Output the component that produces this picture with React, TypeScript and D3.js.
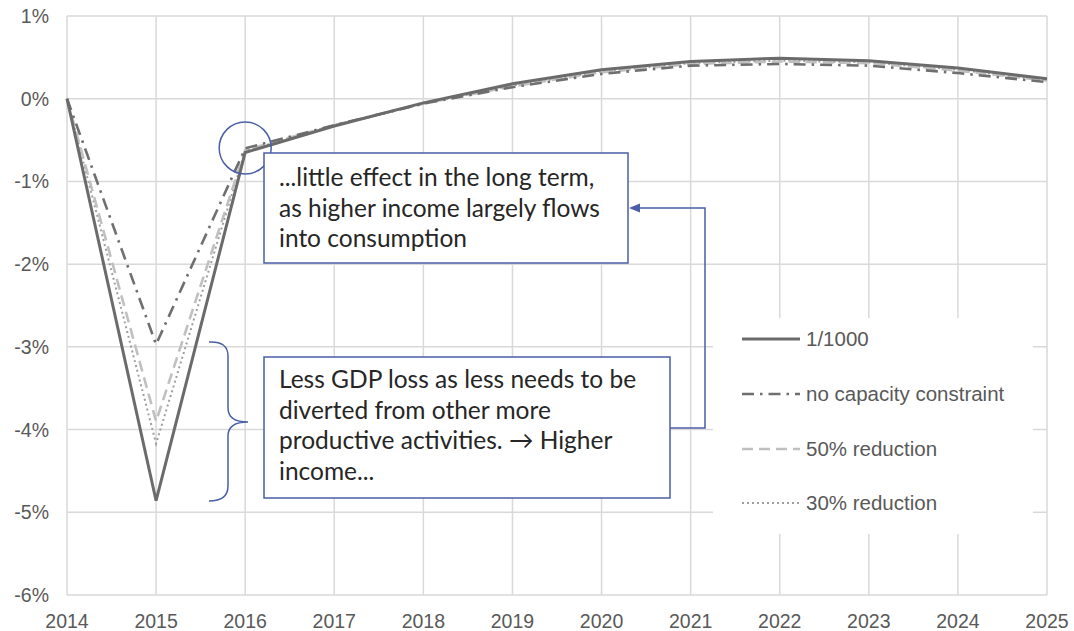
import React from "react";
import * as d3 from "d3";

const years = [2014, 2015, 2016, 2017, 2018, 2019, 2020, 2021, 2022, 2023, 2024, 2025];
const yTicks = [1, 0, -1, -2, -3, -4, -5, -6];

const s1000 = [0, -4.86, -0.65, -0.33, -0.05, 0.18, 0.35, 0.45, 0.49, 0.46, 0.37, 0.24];
const noCapacity = [0, -2.97, -0.6, -0.32, -0.06, 0.14, 0.3, 0.4, 0.42, 0.4, 0.31, 0.2];
const red50 = [0, -3.9, -0.62, -0.32, -0.06, 0.15, 0.32, 0.42, 0.45, 0.43, 0.34, 0.22];
const red30 = [0, -4.17, -0.63, -0.33, -0.06, 0.16, 0.33, 0.43, 0.46, 0.44, 0.35, 0.22];

const seriesNames = ["1/1000", "no capacity constraint", "50% reduction", "30% reduction"];

const W = 1074;
const H = 631;
const M = { left: 67, right: 1047, top: 16, bottom: 595 };

const styles = [
  { color: "#6b6b6b", width: 3, dash: "" },
  { color: "#6f6f6f", width: 2.6, dash: "12,6,2.5,6" },
  { color: "#c0c0c0", width: 2.6, dash: "11,6" },
  { color: "#9e9e9e", width: 2, dash: "2,3" },
];

const boxText1 = ["...little effect in the long term,", "as higher income largely flows", "into consumption"];
const boxText2 = ["Less GDP loss as less needs to be", "diverted from other more", "productive activities. \u2192 Higher", "income..."];

export default function App() {
  const x = d3.scaleLinear().domain([2014, 2025]).range([M.left, M.right]);
  const y = d3.scaleLinear().domain([-6, 1]).range([M.bottom, M.top]);
  const allSeries = [s1000, noCapacity, red50, red30];
  const line = d3
    .line<number>()
    .x((_, i) => x(years[i]))
    .y((d) => y(d));

  const blue = "#4a5fa6";
  const axisFont = "Liberation Sans, Arial, sans-serif";
  const noteFont = "Lato, 'Open Sans', sans-serif";

  // legend block geometry
  const legX = 742;
  const legRows = [339, 394, 449, 503];

  return (
    <svg width={W} height={H} style={{ position: "absolute", left: 0, top: 0, background: "#fff" }}>
      <rect x={0} y={0} width={W} height={H} fill="#fff" />
      {/* gridlines */}
      {yTicks.map((t) => (
        <line key={"h" + t} x1={M.left} x2={M.right} y1={y(t)} y2={y(t)} stroke="#d9d9d9" strokeWidth={1.5} />
      ))}
      {years.map((yr) => (
        <line key={"v" + yr} x1={x(yr)} x2={x(yr)} y1={M.top} y2={M.bottom} stroke="#d9d9d9" strokeWidth={1.5} />
      ))}
      {/* axis labels */}
      {yTicks.map((t) => (
        <text key={"yl" + t} x={49} y={y(t) + 7} textAnchor="end" fontFamily={axisFont} fontSize={19.5} fill="#595959">
          {t + "%"}
        </text>
      ))}
      {years.map((yr) => (
        <text key={"xl" + yr} x={x(yr)} y={628} textAnchor="middle" fontFamily={axisFont} fontSize={19.5} fill="#595959">
          {yr}
        </text>
      ))}
      {/* series */}
      {[3, 2, 1, 0].map((k) => (
        <path
          key={"s" + k}
          d={line(allSeries[k]) || ""}
          fill="none"
          stroke={styles[k].color}
          strokeWidth={styles[k].width}
          strokeDasharray={styles[k].dash}
          strokeLinejoin="miter"
        />
      ))}
      {/* legend */}
      <rect x={713} y={318} width={320} height={216} fill="#fff" />
      {seriesNames.map((n, k) => (
        <g key={"lg" + k}>
          <line
            x1={legX}
            x2={legX + 58}
            y1={legRows[k]}
            y2={legRows[k]}
            stroke={styles[k].color}
            strokeWidth={styles[k].width}
            strokeDasharray={styles[k].dash}
          />
          <text x={806} y={legRows[k] + 7} fontFamily={axisFont} fontSize={20.5} fill="#595959">
            {n}
          </text>
        </g>
      ))}
      {/* highlight circle at 2016 */}
      <circle cx={x(2016)} cy={148} r={26} fill="none" stroke={blue} strokeWidth={1.5} />
      {/* annotation box 1 */}
      <rect x={264} y={153} width={364} height={110} fill="#fff" stroke={blue} strokeWidth={1.5} />
      {boxText1.map((t, i) => (
        <text key={"b1" + i} x={279} y={186 + i * 30.5} fontFamily={noteFont} fontSize={24.5} fill="#262626">
          {t}
        </text>
      ))}
      {/* annotation box 2 */}
      <rect x={264} y={357} width={406} height={141} fill="#fff" stroke={blue} strokeWidth={1.5} />
      {boxText2.map((t, i) => (
        <text key={"b2" + i} x={279} y={388 + i * 30.7} fontFamily={noteFont} fontSize={24.5} fill="#262626">
          {t}
        </text>
      ))}
      {/* brace */}
      <path
        d={`M209,342 Q228,341 228,356 L228,408 Q228,422 248,422 Q228,422 228,436 L228,486 Q228,501 209,501`}
        fill="none"
        stroke={blue}
        strokeWidth={1.5}
      />
      {/* elbow connector with arrow */}
      <path d="M670,428 L705,428 L705,208 L638,208" fill="none" stroke={blue} strokeWidth={1.5} />
      <path d="M629,208 L640,203.5 L640,212.5 Z" fill={blue} />
    </svg>
  );
}
